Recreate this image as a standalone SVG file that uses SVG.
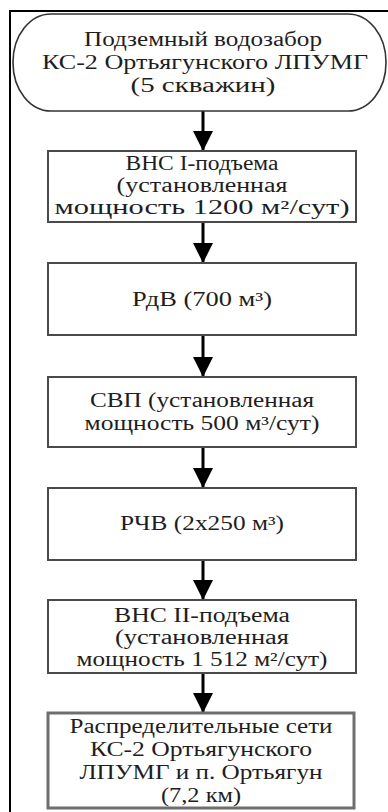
<svg xmlns="http://www.w3.org/2000/svg" width="388" height="812" viewBox="0 0 388 812">
<style>
.bg{fill:#ffffff}
.frame{fill:none;stroke:#000;stroke-width:2}
.box{fill:#fff;stroke:#4a4a4a;stroke-width:2}
.box6{fill:#fff;stroke:#6e6e6e;stroke-width:3}
.term{fill:#fff;stroke:#333;stroke-width:1.6}
.t{font-family:"Liberation Serif","Times New Roman",serif;font-size:20px;fill:#1e1e1e;text-anchor:middle}
.conn{stroke:#000;stroke-width:3;fill:none;marker-end:url(#ah)}
</style>
<defs>
<marker id="ah" markerUnits="userSpaceOnUse" viewBox="0 0 20 20" markerWidth="20" markerHeight="20" refX="20" refY="10" orient="auto">
<path d="M0,0 L20,10 L0,20 z" fill="#000"/>
</marker>
</defs>
<rect class="bg" x="0" y="0" width="388" height="812"/>
<path class="frame" d="M10,812 L10,11 L388,11"/>
<g id="connectors">
<line class="conn" x1="203" y1="111" x2="203" y2="151"/>
<line class="conn" x1="203" y1="222" x2="203" y2="263"/>
<line class="conn" x1="203" y1="335" x2="203" y2="377"/>
<line class="conn" x1="203" y1="447" x2="203" y2="488"/>
<line class="conn" x1="203" y1="560" x2="203" y2="600"/>
<line class="conn" x1="203" y1="673" x2="203" y2="713"/>
</g>
<g id="node-source">
<rect class="term" x="13" y="14" width="373" height="97" rx="38" ry="48"/>
<text class="t" x="203" y="46" textLength="238" lengthAdjust="spacingAndGlyphs">Подземный водозабор</text>
<text class="t" x="205" y="69" textLength="326" lengthAdjust="spacingAndGlyphs">КС-2 Ортьягунского ЛПУМГ</text>
<text class="t" x="203" y="92" textLength="145" lengthAdjust="spacingAndGlyphs">(5 скважин)</text>
</g>
<g id="node-vns1">
<rect class="box" x="48" y="151" width="308" height="71"/>
<text class="t" x="202" y="170" textLength="153" lengthAdjust="spacingAndGlyphs">ВНС I-подъема</text>
<text class="t" x="202" y="192" textLength="171" lengthAdjust="spacingAndGlyphs">(установленная</text>
<text class="t" x="202" y="214" textLength="295" lengthAdjust="spacingAndGlyphs">мощность 1200 м²/сут)</text>
</g>
<g id="node-rdv">
<rect class="box" x="48" y="263" width="308" height="72"/>
<text class="t" x="202" y="306" textLength="140" lengthAdjust="spacingAndGlyphs">РдВ (700 м³)</text>
</g>
<g id="node-svp">
<rect class="box" x="48" y="377" width="308" height="70"/>
<text class="t" x="202" y="407" textLength="224" lengthAdjust="spacingAndGlyphs">СВП (установленная</text>
<text class="t" x="202" y="430" textLength="235" lengthAdjust="spacingAndGlyphs">мощность 500 м³/сут)</text>
</g>
<g id="node-rchv">
<rect class="box" x="48" y="488" width="308" height="72"/>
<text class="t" x="202" y="530" textLength="164" lengthAdjust="spacingAndGlyphs">РЧВ (2x250 м³)</text>
</g>
<g id="node-vns2">
<rect class="box" x="48" y="600" width="308" height="73"/>
<text class="t" x="202" y="622" textLength="176" lengthAdjust="spacingAndGlyphs">ВНС II-подъема</text>
<text class="t" x="202" y="644" textLength="174" lengthAdjust="spacingAndGlyphs">(установленная</text>
<text class="t" x="202" y="666" textLength="251" lengthAdjust="spacingAndGlyphs">мощность 1 512 м²/сут)</text>
</g>
<g id="node-networks">
<rect class="box6" x="48" y="713" width="306" height="95"/>
<text class="t" x="201" y="733" textLength="263" lengthAdjust="spacingAndGlyphs">Распределительные сети</text>
<text class="t" x="201" y="756" textLength="222" lengthAdjust="spacingAndGlyphs">КС-2 Ортьягунского</text>
<text class="t" x="201" y="779" textLength="243" lengthAdjust="spacingAndGlyphs">ЛПУМГ и п. Ортьягун</text>
<text class="t" x="201" y="802" textLength="80" lengthAdjust="spacingAndGlyphs">(7,2 км)</text>
</g>
</svg>
